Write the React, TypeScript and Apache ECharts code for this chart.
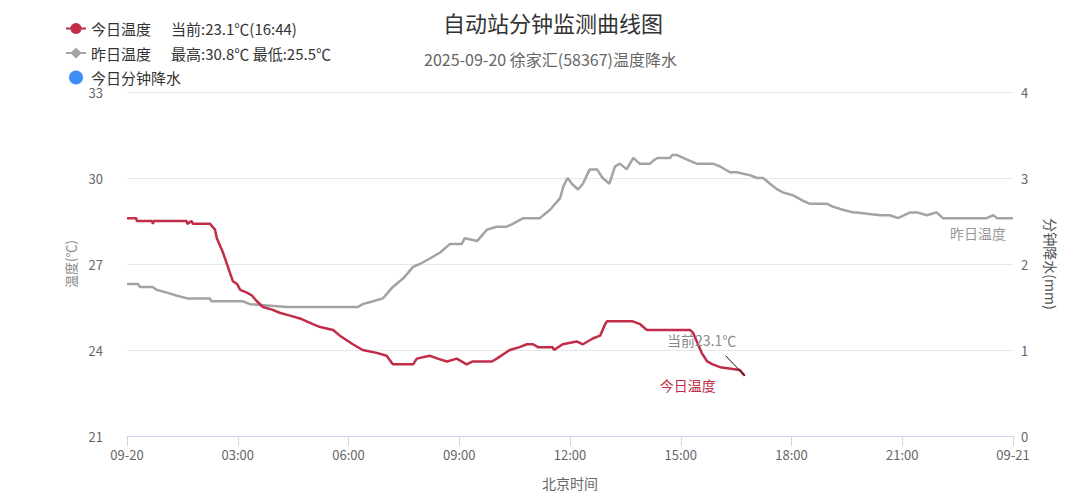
import React, { useEffect, useRef } from "react";
import * as echarts from "echarts";

const titleText = "自动站分钟监测曲线图";
const subtitleText = "2025-09-20 徐家汇(58367)温度降水";
const xTickLabels = ["09-20", "03:00", "06:00", "09:00", "12:00", "15:00", "18:00", "21:00", "09-21"];
const legendInfo: Record<string, string> = {
  今日温度: "当前:23.1℃(16:44)",
  昨日温度: "最高:30.8℃ 最低:25.5℃",
  今日分钟降水: "",
};

const todayTimes = [
  "00:00", "00:15", "00:16", "00:41", "00:42", "00:44", "01:37", "01:38", "01:45", "01:47",
  "02:15", "02:23", "02:26", "02:36", "02:44", "02:52", "02:59", "03:04", "03:15", "03:23",
  "03:31", "03:41", "03:57", "04:08", "04:25", "04:41", "05:02", "05:14", "05:35", "05:46",
  "06:07", "06:23", "06:46", "07:02", "07:12", "07:45", "07:51", "08:12", "08:25", "08:40",
  "08:56", "09:12", "09:22", "09:53", "10:01", "10:22", "10:38", "10:50", "11:00", "11:08",
  "11:32", "11:34", "11:48", "12:11", "12:21", "12:37", "12:49", "12:57", "13:00", "13:42",
  "13:54", "14:05", "15:15", "15:20", "15:28", "15:34", "15:43", "15:52", "16:04", "16:36",
  "16:44",
];
const todayTemps = [
  28.6, 28.6, 28.5, 28.5, 28.4, 28.5, 28.5, 28.4, 28.5, 28.4,
  28.4, 28.2, 27.9, 27.4, 26.9, 26.4, 26.3, 26.1, 26.0, 25.9,
  25.7, 25.5, 25.4, 25.3, 25.2, 25.1, 24.9, 24.8, 24.7, 24.5,
  24.2, 24.0, 23.9, 23.8, 23.5, 23.5, 23.7, 23.8, 23.7, 23.6,
  23.7, 23.5, 23.6, 23.6, 23.7, 24.0, 24.1, 24.2, 24.2, 24.1,
  24.1, 24.0, 24.2, 24.3, 24.2, 24.4, 24.5, 24.9, 25.0, 25.0,
  24.9, 24.7, 24.7, 24.6, 24.2, 23.9, 23.6, 23.5, 23.4, 23.3,
  23.1,
];

const yesterdayTimes = [
  "00:00", "00:18", "00:21", "00:42", "00:48", "01:05", "01:20", "01:38", "02:15", "02:17",
  "03:08", "03:20", "04:20", "06:15", "06:23", "06:40", "06:56", "07:12", "07:29", "07:45",
  "07:56", "08:13", "08:29", "08:45", "09:04", "09:09", "09:29", "09:45", "10:01", "10:17",
  "10:27", "10:44", "11:11", "11:28", "11:44", "11:49", "11:56", "12:03", "12:13", "12:21",
  "12:32", "12:44", "12:53", "13:04", "13:13", "13:21", "13:32", "13:43", "13:53", "14:10",
  "14:15", "14:22", "14:43", "14:46", "14:54", "15:04", "15:15", "15:26", "15:52", "16:04",
  "16:20", "16:31", "16:52", "17:04", "17:14", "17:25", "17:37", "17:46", "18:02", "18:19",
  "18:30", "18:58", "19:07", "19:22", "19:40", "19:46", "20:24", "20:40", "20:53", "21:13",
  "21:24", "21:40", "21:56", "22:06", "22:50", "23:17", "23:28", "23:34", "24:00",
];
const yesterdayTemps = [
  26.3, 26.3, 26.2, 26.2, 26.1, 26.0, 25.9, 25.8, 25.8, 25.7,
  25.7, 25.6, 25.5, 25.5, 25.6, 25.7, 25.8, 26.2, 26.5, 26.9,
  27.0, 27.2, 27.4, 27.7, 27.7, 27.9, 27.8, 28.2, 28.3, 28.3,
  28.4, 28.6, 28.6, 28.9, 29.3, 29.7, 30.0, 29.8, 29.6, 29.8,
  30.3, 30.3, 30.0, 29.8, 30.4, 30.5, 30.3, 30.7, 30.5, 30.5,
  30.6, 30.7, 30.7, 30.8, 30.8, 30.7, 30.6, 30.5, 30.5, 30.4,
  30.2, 30.2, 30.1, 30.0, 30.0, 29.8, 29.6, 29.5, 29.4, 29.2,
  29.1, 29.1, 29.0, 28.9, 28.8, 28.8, 28.7, 28.7, 28.6, 28.8,
  28.8, 28.7, 28.8, 28.6, 28.6, 28.6, 28.7, 28.6, 28.6,
];

const precipTimes: string[] = [];
const precipValues: number[] = [];

const currentLabel = "当前23.1℃";
const currentLeaderStart = { time: "16:13", temp: 23.8 };
const currentLeaderEnd = { time: "16:44", temp: 23.1 };
const currentLabelAnchor = { time: "15:34", temp: 24.35 };

const toMin = (t: string) => {
  const [h, m] = t.split(":").map(Number);
  return h * 60 + m;
};
const zip = (times: string[], vals: number[]) => times.map((t, i) => [toMin(t), vals[i]]);

const FONT = "'Noto Sans CJK SC', 'Noto Sans', sans-serif";
const RED = "#c12c48";
const GREY = "#a3a3a3";
const BLUE = "#3d8ef5";

export default function App() {
  const ref = useRef<HTMLDivElement>(null);
  useEffect(() => {
    document.body.style.margin = "0";
    const chart = echarts.init(ref.current!, null, { renderer: "svg" });
    chart.setOption({
      animation: false,
      textStyle: { fontFamily: FONT },
      title: [
        {
          text: titleText,
          left: 443,
          top: 11,
          padding: 0,
          textStyle: { fontSize: 22, fontWeight: "normal", color: "#333", fontFamily: FONT },
        },
        {
          text: subtitleText,
          left: 424,
          top: 51,
          padding: 0,
          textStyle: { fontSize: 16, fontWeight: "normal", color: "#666", fontFamily: FONT },
        },
      ],
      legend: {
        orient: "vertical",
        left: 65,
        top: 21,
        padding: 0,
        itemWidth: 20,
        itemHeight: 14,
        itemGap: 9.5,
        data: [{ name: "今日温度" }, { name: "昨日温度" }, { name: "今日分钟降水", icon: "circle" }],
        formatter: (name: string) =>
          legendInfo[name] ? `{n|${name}}{i|${legendInfo[name]}}` : `{n|${name}}`,
        textStyle: {
          fontSize: 15,
          lineHeight: 14,
          color: "#333",
          fontFamily: FONT,
          rich: {
            n: { width: 80, fontSize: 15, lineHeight: 14, color: "#333", fontFamily: FONT },
            i: { fontSize: 15, lineHeight: 14, color: "#333", fontFamily: FONT },
          },
        },
      },
      grid: { left: 127, right: 67, top: 92, bottom: 64 },
      xAxis: {
        type: "value",
        min: 0,
        max: 1440,
        interval: 180,
        name: "北京时间",
        nameLocation: "middle",
        nameGap: 40,
        nameTextStyle: { color: "#666", fontSize: 14 },
        axisLine: { show: true, lineStyle: { color: "#ccd6eb" } },
        axisTick: { show: true, length: 10, lineStyle: { color: "#ccd6eb" } },
        splitLine: { show: false },
        axisLabel: {
          color: "#666",
          fontSize: 13,
          margin: 12,
          showMinLabel: true,
          showMaxLabel: true,
          formatter: (v: number) => xTickLabels[Math.round(v / 180)] ?? "",
        },
      },
      yAxis: [
        {
          type: "value",
          min: 21,
          max: 33,
          interval: 3,
          name: "温度(℃)",
          nameLocation: "middle",
          nameGap: 50,
          nameTextStyle: { color: "#888", fontSize: 13 },
          axisLine: { show: false },
          axisTick: { show: false },
          axisLabel: { color: "#666", fontSize: 13, margin: 24 },
          splitLine: { lineStyle: { color: "#e6e6e6" } },
        },
        {
          type: "value",
          min: 0,
          max: 4,
          interval: 1,
          position: "right",
          name: "分钟降水(mm)",
          nameLocation: "middle",
          nameRotate: -90,
          nameGap: 31,
          nameTextStyle: { color: "#555", fontSize: 14 },
          axisLine: { show: false },
          axisTick: { show: false },
          axisLabel: { color: "#666", fontSize: 13, margin: 8 },
          splitLine: { show: false },
        },
      ],
      series: [
        {
          name: "昨日温度",
          type: "line",
          data: zip(yesterdayTimes, yesterdayTemps),
          symbol: "diamond",
          symbolSize: 8,
          showSymbol: false,
          color: GREY,
          lineStyle: { color: GREY, width: 2.5 },
          endLabel: {
            show: true,
            formatter: "昨日温度",
            color: "#999",
            fontSize: 14,
            offset: [-71, 15],
          },
          z: 2,
        },
        {
          name: "今日温度",
          type: "line",
          data: zip(todayTimes, todayTemps),
          symbol: "circle",
          symbolSize: 9,
          showSymbol: false,
          color: RED,
          lineStyle: { color: RED, width: 2.5 },
          endLabel: {
            show: true,
            formatter: "今日温度",
            color: RED,
            fontSize: 14,
            offset: [-93, 9],
          },
          markLine: {
            silent: true,
            symbol: "none",
            label: { show: false },
            lineStyle: { color: "#111", width: 1, type: "solid" },
            data: [
              [
                { coord: [toMin(currentLeaderStart.time), currentLeaderStart.temp] },
                { coord: [toMin(currentLeaderEnd.time), currentLeaderEnd.temp] },
              ],
            ],
          },
          markPoint: {
            silent: true,
            symbol: "rect",
            symbolSize: 1,
            itemStyle: { color: "rgba(0,0,0,0)" },
            label: { show: true, position: "inside", color: "#888", fontSize: 14, formatter: currentLabel },
            data: [{ coord: [toMin(currentLabelAnchor.time), currentLabelAnchor.temp] }],
          },
          z: 3,
        },
        {
          name: "今日分钟降水",
          type: "bar",
          yAxisIndex: 1,
          color: BLUE,
          data: zip(precipTimes, precipValues),
        },
      ],
    });
    return () => chart.dispose();
  }, []);
  return <div ref={ref} style={{ width: 1080, height: 500 }} />;
}
